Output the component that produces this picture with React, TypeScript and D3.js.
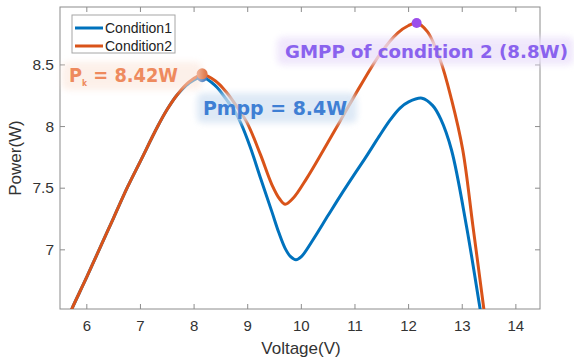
import React from "react";
import * as d3 from "d3";

const voltage1 = [5.65, 5.73, 6.0, 6.26, 6.5, 6.76, 7.0, 7.32, 7.5, 7.69, 7.9, 8.15, 8.4, 8.6, 8.75, 8.87, 9.05, 9.24, 9.45, 9.58, 9.7, 9.8, 9.9, 10.0, 10.2, 10.5, 10.73, 10.97, 11.2, 11.45, 11.65, 11.84, 12.0, 12.25, 12.45, 12.6, 12.8, 13.08, 13.33, 13.4];
const power1 = [6.45, 6.53, 6.78, 7.03, 7.26, 7.51, 7.72, 8.0, 8.14, 8.26, 8.35, 8.40, 8.33, 8.22, 8.13, 8.03, 7.83, 7.58, 7.31, 7.14, 7.01, 6.945, 6.92, 6.945, 7.07, 7.28, 7.44, 7.60, 7.75, 7.92, 8.05, 8.15, 8.20, 8.23, 8.17, 8.06, 7.81, 7.19, 6.53, 6.35];

const voltage2 = [5.65, 5.73, 6.0, 6.26, 6.5, 6.76, 7.0, 7.32, 7.5, 7.69, 7.9, 8.15, 8.4, 8.6, 8.8, 8.99, 9.24, 9.45, 9.6, 9.7, 9.85, 10.1, 10.4, 10.73, 11.1, 11.47, 11.8, 12.0, 12.15, 12.35, 12.59, 12.8, 13.01, 13.2, 13.4, 13.45];
const power2 = [6.45, 6.53, 6.78, 7.03, 7.26, 7.51, 7.72, 8.0, 8.14, 8.26, 8.36, 8.42, 8.37, 8.28, 8.16, 8.03, 7.77, 7.53, 7.41, 7.37, 7.42, 7.58, 7.80, 8.05, 8.33, 8.59, 8.76, 8.82, 8.84, 8.77, 8.54, 8.22, 7.81, 7.19, 6.53, 6.35];

const seriesNames = ["Condition1", "Condition2"];
const seriesColors = ["#0072BD", "#D95319"];
const xTicks = [6, 7, 8, 9, 10, 11, 12, 13, 14];
const yTicks = [7, 7.5, 8, 8.5];

const mpp1 = { v: 8.15, p: 8.4 };
const mpp2 = { v: 8.15, p: 8.42 };
const gmpp2 = { v: 12.15, p: 8.84 };

const W = 574;
const H = 361;
const L = 60, R = 540, T = 7, B = 309;

export default function App() {
  const x = d3.scaleLinear().domain([5.5, 14.45]).range([L, R]);
  const y = d3.scaleLinear().domain([6.52, 8.97]).range([B, T]);
  const line = d3
    .line<[number, number]>()
    .x((d) => x(d[0]))
    .y((d) => y(d[1]))
    .curve(d3.curveCatmullRom.alpha(0.5));
  const d1 = line(voltage1.map((v, i) => [v, power1[i]] as [number, number])) || "";
  const d2 = line(voltage2.map((v, i) => [v, power2[i]] as [number, number])) || "";
  const axisColor = "#8c8c8c";
  const tickFont = "'Liberation Sans', Arial, sans-serif";
  const annFont = "'DejaVu Sans', Verdana, sans-serif";

  return (
    <svg width={W} height={H} style={{ position: "absolute", left: 0, top: 0, background: "#fff" }}>
      <defs>
        <clipPath id="plotClip">
          <rect x={L} y={T} width={R - L} height={B - T} />
        </clipPath>
        <filter id="soft" x="-10%" y="-30%" width="120%" height="160%">
          <feGaussianBlur stdDeviation="3" />
        </filter>
      </defs>
      <rect x={0} y={0} width={W} height={H} fill="#fff" />
      {xTicks.map((t) => (
        <g key={"x" + t}>
          <line x1={x(t)} x2={x(t)} y1={B} y2={B - 5} stroke={axisColor} />
          <line x1={x(t)} x2={x(t)} y1={T} y2={T + 5} stroke={axisColor} />
          <text x={x(t)} y={331} textAnchor="middle" fontFamily={tickFont} fontSize={15} fill="#333">
            {t}
          </text>
        </g>
      ))}
      {yTicks.map((t) => (
        <g key={"y" + t}>
          <line x1={L} x2={L + 5} y1={y(t)} y2={y(t)} stroke={axisColor} />
          <line x1={R} x2={R - 5} y1={y(t)} y2={y(t)} stroke={axisColor} />
          <text x={54} y={y(t) + 5} textAnchor="end" fontFamily={tickFont} fontSize={15.5} fill="#333">
            {t}
          </text>
        </g>
      ))}
      <rect x={L} y={T} width={R - L} height={B - T} fill="none" stroke={axisColor} strokeWidth={1} />
      <text x={301} y={354} textAnchor="middle" fontFamily={tickFont} fontSize={17} fill="#333">
        Voltage(V)
      </text>
      <text
        transform={`translate(21,158) rotate(-90)`}
        textAnchor="middle"
        fontFamily={tickFont}
        fontSize={17}
        fill="#333"
      >
        Power(W)
      </text>
      <g clipPath="url(#plotClip)">
        <path d={d1} fill="none" stroke={seriesColors[0]} strokeWidth={3} />
        <path d={d2} fill="none" stroke={seriesColors[1]} strokeWidth={3} />
      </g>
      <circle cx={x(mpp1.v)} cy={y(mpp1.p)} r={5} fill="#3C78C3" />
      <circle cx={x(mpp2.v)} cy={y(mpp2.p) - 1} r={5.5} fill="#E07445" />
      <circle cx={x(gmpp2.v)} cy={y(gmpp2.p)} r={5} fill="#9B4DEB" />
      <rect x={62} y={62} width={140} height={28} rx={6} fill="#FBE4D8" opacity={0.55} filter="url(#soft)" />
      <rect x={197} y={93} width={160} height={30} rx={6} fill="#D3E2F3" opacity={0.75} filter="url(#soft)" />
      <rect x={277} y={37} width={297} height={28} rx={6} fill="#ECE2FB" opacity={0.8} filter="url(#soft)" />
      <text x={69} y={82} fontFamily={annFont} fontWeight="bold" fontSize={19} fill="#EE8A5E" textLength={109} lengthAdjust="spacingAndGlyphs">
        P<tspan fontSize={8} dy={4}>k</tspan>
        <tspan dy={-4}> = 8.42W</tspan>
      </text>
      <text x={203} y={115} fontFamily={annFont} fontWeight="bold" fontSize={19} fill="#3F7FD4" textLength={144} lengthAdjust="spacingAndGlyphs">
        Pmpp = 8.4W
      </text>
      <text x={285} y={58} fontFamily={annFont} fontWeight="bold" fontSize={17.5} fill="#8A62EE" textLength={283} lengthAdjust="spacingAndGlyphs">
        GMPP of condition 2 (8.8W)
      </text>
      <rect x={72} y={15} width={103} height={38} fill="#fff" stroke="#a6a6a6" strokeWidth={1} />
      {seriesNames.map((name, i) => (
        <g key={name}>
          <line x1={75} x2={103} y1={28 + i * 18} y2={28 + i * 18} stroke={seriesColors[i]} strokeWidth={3} />
          <text x={105} y={33 + i * 18} fontFamily={tickFont} fontSize={14} fill="#222">
            {name}
          </text>
        </g>
      ))}
    </svg>
  );
}
